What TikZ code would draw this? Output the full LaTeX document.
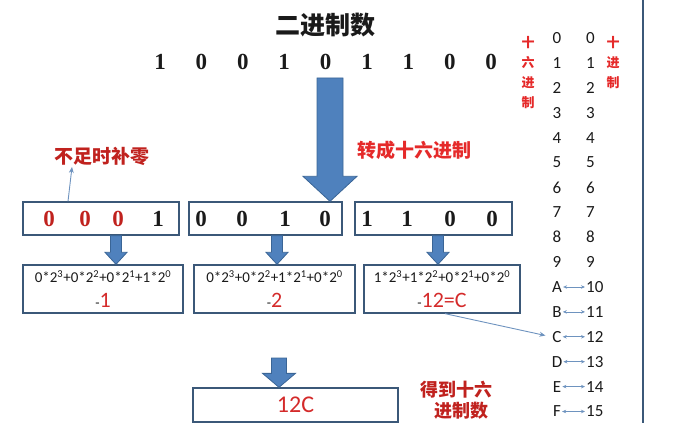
\documentclass[tikz,border=0pt]{standalone}
\usepackage{fontspec}
\newfontfamily\cjk{Noto Sans CJK SC}
\newfontfamily\serifb{Liberation Serif}
\newfontfamily\calib{Carlito}
\usetikzlibrary{calc,arrows.meta}
\definecolor{arrowfill}{HTML}{4F81BD}
\definecolor{arrowline}{HTML}{3A6596}
\definecolor{boxline}{HTML}{3B5878}
\definecolor{redtxt}{HTML}{D42A2A}
\definecolor{darkred}{HTML}{C0221E}
\definecolor{brightred}{HTML}{E52A2A}
\definecolor{thinblue}{HTML}{6E93BF}
\definecolor{inkblack}{HTML}{1A1A1A}
\newcommand{\blockarr}[5]{%
  \fill[arrowfill, draw=arrowline, line width=0.8pt] let \p1=(#1), \p2=(#2) in
   (\x1-#3,\y1) -- (\x1+#3,\y1) -- (\x1+#3,\y2+#5) -- (\x1+#4,\y2+#5) -- (\x1,\y2)
   -- (\x1-#4,\y2+#5) -- (\x1-#3,\y2+#5) -- cycle;}
\begin{document}
\begin{tikzpicture}[x=1pt,y=-1pt,
  boxnode/.style={draw=boxline, line width=1.3pt, inner sep=0pt},
  bigdigit/.style={font=\serifb\bfseries\fontsize{23}{23}\selectfont, text=inkblack, inner sep=0pt},
  reddigit/.style={bigdigit, text=darkred},
  redlabel/.style={font=\cjk\bfseries\fontsize{19}{19}\selectfont, inner sep=0pt},
  formula/.style={font=\calib\fontsize{15}{15}\selectfont, text=inkblack, inner sep=0pt},
  result/.style={font=\calib\fontsize{22}{22}\selectfont, text=redtxt, inner sep=0pt},
  tabtxt/.style={font=\calib\fontsize{17}{17}\selectfont, text=inkblack, inner sep=1pt},
  vlabel/.style={font=\cjk\bfseries\fontsize{13}{20}\selectfont, text=brightred, align=center, inner sep=0pt},
  thinarr/.style={draw=thinblue, line width=0.9pt, -{Stealth[length=6pt,width=5pt]}},
  dblarr/.style={draw=thinblue, line width=0.7pt, {Stealth[length=4pt,width=3.5pt]}-{Stealth[length=4pt,width=3.5pt]}}
]
\useasboundingbox (0,0) rectangle (680,446);

% title and binary row
\node[font=\cjk\bfseries\fontsize{25}{25}\selectfont, text=inkblack] (title) at (325,25) {二进制数};
\foreach \d [count=\i] in {1,0,0,1,0,1,1,0,0} {
  \node[bigdigit] (b\i) at ({160+41.4*(\i-1)},62) {\d};
}

% labels
\node[redlabel, text=darkred] (note) at (102,156) {不足时补零};
\node[redlabel, text=brightred] (conv) at (414,150) {转成十六进制};

% upper boxes
\node[boxnode, minimum width=156pt, minimum height=33pt] (u1) at (101,218.5) {};
\node[boxnode, minimum width=153pt, minimum height=33pt] (u2) at (265.5,218.5) {};
\node[boxnode, minimum width=157pt, minimum height=33pt] (u3) at (433.5,218.5) {};
\node[reddigit] (u1a) at (49,219) {0};
\node[reddigit] (u1b) at (85,219) {0};
\node[reddigit] (u1c) at (118,219) {0};
\node[bigdigit] (u1d) at (158,219) {1};
\node[bigdigit] (u2a) at (201,219) {0};
\node[bigdigit] (u2b) at (242,219) {0};
\node[bigdigit] (u2c) at (285,219) {1};
\node[bigdigit] (u2d) at (325,219) {0};
\node[bigdigit] (u3a) at (367,219) {1};
\node[bigdigit] (u3b) at (407,219) {1};
\node[bigdigit] (u3c) at (450,219) {0};
\node[bigdigit] (u3d) at (492,219) {0};

% lower boxes
\node[boxnode, minimum width=160pt, minimum height=48pt] (l1) at (103,289) {};
\node[boxnode, minimum width=161pt, minimum height=48pt] (l2) at (274.5,289) {};
\node[boxnode, minimum width=156pt, minimum height=48pt] (l3) at (442,289) {};
\node[formula] (f1) at (103,277) {0*2\textsuperscript{3}+0*2\textsuperscript{2}+0*2\textsuperscript{1}+1*2\textsuperscript{0}};
\node[formula] (f2) at (274.5,277) {0*2\textsuperscript{3}+0*2\textsuperscript{2}+1*2\textsuperscript{1}+0*2\textsuperscript{0}};
\node[formula] (f3) at (442,277) {1*2\textsuperscript{3}+1*2\textsuperscript{2}+0*2\textsuperscript{1}+0*2\textsuperscript{0}};
\node[result] (r1) at (103,300) {{\fontsize{14}{14}\selectfont\textcolor{inkblack}{-}}1};
\node[result] (r2) at (274.5,300) {{\fontsize{14}{14}\selectfont\textcolor{inkblack}{-}}2};
\node[result] (r3) at (442,300) {{\fontsize{14}{14}\selectfont\textcolor{inkblack}{-}}12=C};

% bottom box and label
\node[boxnode, minimum width=205pt, minimum height=34pt, font=\calib\fontsize{24}{24}\selectfont, text=redtxt] (res) at (295.5,405) {12C};
\node[redlabel, text=darkred, align=center, font=\cjk\bfseries\fontsize{18}{21}\selectfont] (got) at (456,400) {得到十六\\\hspace*{10pt}进制数};

% block arrows
\coordinate (bigtop) at (330,78);
\blockarr{bigtop}{u2.north -| bigtop}{13pt}{27pt}{25pt}
\coordinate (s1) at (116,0);
\coordinate (s2) at (277,0);
\coordinate (s3) at (438,0);
\blockarr{u1.south -| s1}{l1.north -| s1}{5.5pt}{11pt}{12pt}
\blockarr{u2.south -| s2}{l2.north -| s2}{5.5pt}{11pt}{12pt}
\blockarr{u3.south -| s3}{l3.north -| s3}{5.5pt}{11pt}{12pt}
\coordinate (btop) at (279,358);
\blockarr{btop}{res.north -| btop}{7.5pt}{16.5pt}{14pt}

% right table
\foreach \d [count=\i from 0] in {0,1,2,3,4,5,6,7,8,9} {
  \node[tabtxt] (h\i) at (557,{38+24.9*\i}) {\d};
  \node[tabtxt, anchor=west] (d\i) at (585,{38+24.9*\i}) {\d};
}
\foreach \L [count=\i from 10] in {A,B,C,D,E,F} {
  \node[tabtxt] (h\i) at (557,{38+24.9*\i}) {\L};
  \node[tabtxt, anchor=west] (d\i) at (585,{38+24.9*\i}) {\i};
  \draw[dblarr] (h\i.east) -- (d\i.west);
}
\node[vlabel] (hexlbl) at (528,72.5) {十\\六\\进\\制};
\node[vlabel] (declbl) at (613,62.5) {十\\进\\制};

% thin arrows
\coordinate (nb) at (68,0);
\coordinate (ne) at (72,167);
\draw[thinarr] (u1.north -| nb) -- (ne);
\coordinate (cb) at (445,0);
\draw[thinarr, shorten >=6pt] (l3.south -| cb) -- (h12.west);

% right rule
\coordinate (rtop) at (643,0);
\coordinate (rbot) at (643,423);
\draw[draw=boxline, line width=1.2pt] (rtop) -- (rbot);
\end{tikzpicture}
\end{document}
